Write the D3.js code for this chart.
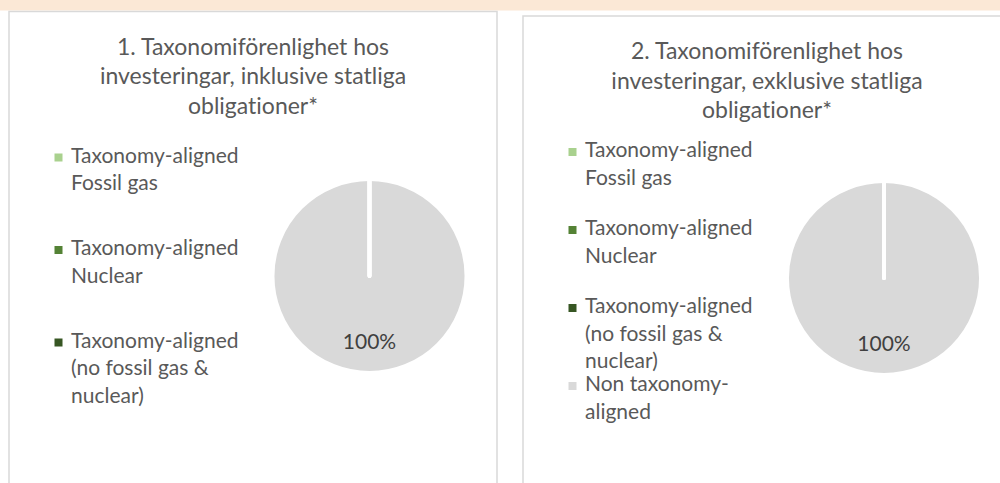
<!DOCTYPE html>
<html>
<head>
<meta charset="utf-8">
<script src="https://cdn.jsdelivr.net/npm/d3@7"></script>
<style>
  html, body { margin: 0; padding: 0; background: #ffffff; }
  svg { display: block; }
  text { font-family: Lato, "Open Sans", sans-serif; font-variant-ligatures: none; font-feature-settings: "liga" 0, "clig" 0; }
</style>
</head>
<body>
<svg id="chart" width="1000" height="483"></svg>
<script>
// ---- data ----
const categories = [
  "Taxonomy-aligned\nFossil gas",
  "Taxonomy-aligned\nNuclear",
  "Taxonomy-aligned\n(no fossil gas &\nnuclear)",
  "Non taxonomy-\naligned"
];
const colors = ["#A9D18E", "#548235", "#375623", "#D9D9D9"];
const values1 = [0, 0, 0, 100];
const values2 = [0, 0, 0, 100];
const title1 = ["1. Taxonomiförenlighet hos", "investeringar, inklusive statliga", "obligationer*"];
const title2 = ["2. Taxonomiförenlighet hos", "investeringar, exklusive statliga", "obligationer*"];
const legendShown1 = 3;
const legendShown2 = 4;

// ---- layout ----
const svg = d3.select("#chart");
svg.append("rect").attr("x", 0).attr("y", 0).attr("width", 1000).attr("height", 10.5).attr("fill", "#FBE8D6");

const panels = [
  { x: 9, y: 11.5, w: 488, title: title1, values: values1, shown: legendShown1,
    legendTop: 151, legendStep: 92.5, cx: 360.5, cy: 264.5 },
  { x: 523, y: 16, w: 488, title: title2, values: values2, shown: legendShown2,
    legendTop: 141, legendStep: 78, cx: 361, cy: 262 }
];

const radius = 95;
const strokeW = 4;
const pie = d3.pie().sort(null).value(d => d);
const arc = d3.arc().innerRadius(0).outerRadius(radius + strokeW / 2);
const labelArc = d3.arc().innerRadius(radius * 0.69).outerRadius(radius * 0.69);
const fmt = d3.format(".0%");
const fontSize = 21;
const titleSize = 23;
const lineH = 27.5;

panels.forEach(p => {
  const g = svg.append("g").attr("transform", `translate(${p.x},${p.y})`);
  g.append("rect")
    .attr("x", 0).attr("y", 0).attr("width", p.w).attr("height", 520)
    .attr("fill", "#ffffff").attr("stroke", "#D9D9D9").attr("stroke-width", 1.5);

  // title
  const t = g.append("text")
    .attr("text-anchor", "middle")
    .attr("fill", "#595959")
    .attr("font-size", titleSize);
  p.title.forEach((line, i) => {
    t.append("tspan").attr("x", p.w / 2).attr("y", 43 + i * 29.5).text(line);
  });

  // legend
  const total = d3.sum(p.values);
  const leg = g.append("g");
  categories.slice(0, p.shown).forEach((c, i) => {
    const by = p.legendTop + i * p.legendStep;
    leg.append("rect")
      .attr("x", 45.5).attr("y", by - 9).attr("width", 8).attr("height", 8)
      .attr("fill", colors[i]);
    const lt = leg.append("text").attr("fill", "#595959").attr("font-size", fontSize);
    c.split("\n").forEach((line, j) => {
      lt.append("tspan").attr("x", 62).attr("y", by + j * lineH).text(line);
    });
  });

  // pie
  const pg = g.append("g").attr("transform", `translate(${p.cx},${p.cy})`);
  const arcs = pie(p.values);
  // draw the non-zero slices first, zero slices on top so their white borders show
  const order = arcs.slice().sort((a, b) => (b.value - a.value));
  pg.selectAll("path.slice")
    .data(order)
    .enter().append("path")
    .attr("class", "slice")
    .attr("d", arc)
    .attr("fill", d => colors[d.index])
    .attr("stroke", "#ffffff")
    .attr("stroke-width", strokeW)
    .attr("stroke-linejoin", "round");

  pg.selectAll("text.lbl")
    .data(arcs.filter(d => d.value > 0))
    .enter().append("text")
    .attr("class", "lbl")
    .attr("transform", d => `translate(${labelArc.centroid(d)})`)
    .attr("text-anchor", "middle")
    .attr("dy", "0.35em")
    .attr("fill", "#404040")
    .attr("font-size", fontSize)
    .text(d => fmt(d.value / total));
});
</script>
</body>
</html>
